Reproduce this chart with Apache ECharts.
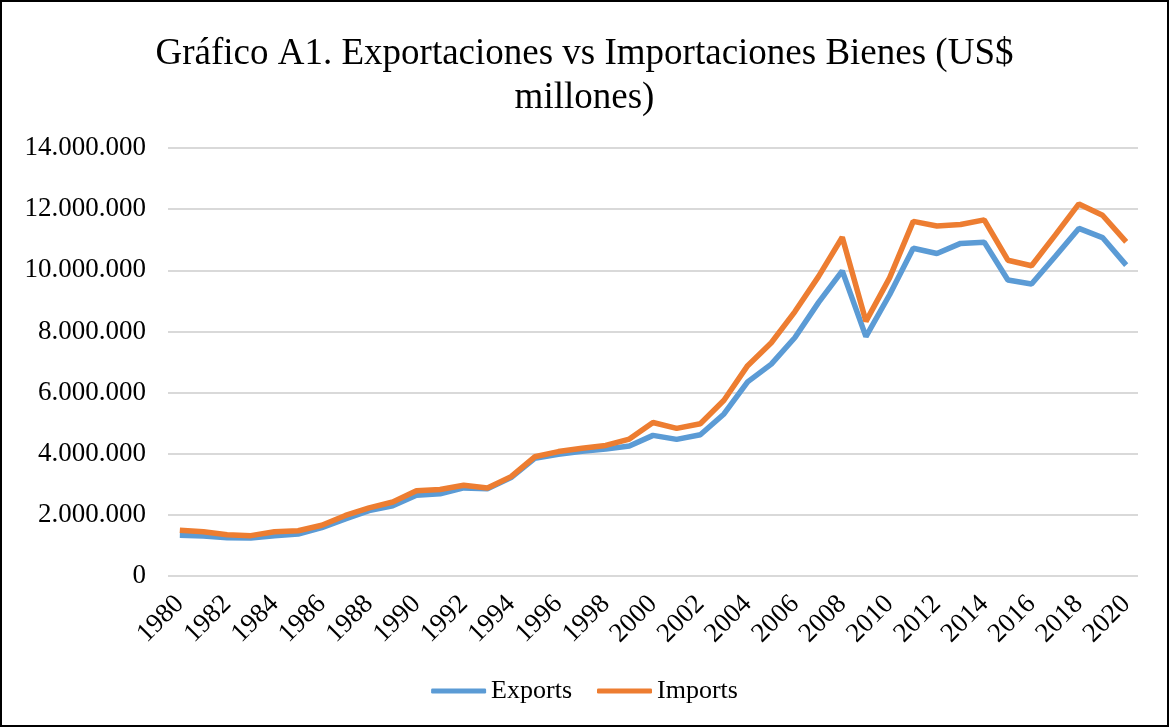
<!DOCTYPE html>
<html>
<head>
<meta charset="utf-8">
<script src="https://cdn.jsdelivr.net/npm/echarts@6/dist/echarts.min.js"></script>
<style>
html,body{margin:0;padding:0;background:#fff;}
#c{width:1169px;height:727px;box-sizing:border-box;border:2px solid #000;}
</style>
</head>
<body>
<div id="c"></div>
<script>
const years = ['1980','1981','1982','1983','1984','1985','1986','1987','1988','1989','1990','1991','1992','1993','1994','1995','1996','1997','1998','1999','2000','2001','2002','2003','2004','2005','2006','2007','2008','2009','2010','2011','2012','2013','2014','2015','2016','2017','2018','2019','2020'];
const exportsData = [1330000,1310000,1250000,1240000,1320000,1370000,1580000,1870000,2140000,2300000,2640000,2690000,2880000,2850000,3220000,3850000,3980000,4080000,4150000,4250000,4600000,4470000,4620000,5300000,6350000,6930000,7800000,8950000,9980000,7830000,9200000,10720000,10550000,10880000,10920000,9680000,9550000,10450000,11370000,11070000,10170000];
const importsData = [1500000,1450000,1350000,1320000,1450000,1480000,1660000,1980000,2230000,2420000,2790000,2830000,2970000,2880000,3250000,3900000,4070000,4180000,4270000,4480000,5020000,4830000,4980000,5750000,6880000,7630000,8650000,9800000,11080000,8330000,9750000,11600000,11450000,11500000,11650000,10330000,10150000,11150000,12170000,11800000,10930000];
const yTicks = [0,2000000,4000000,6000000,8000000,10000000,12000000,14000000];

const serif = 'Liberation Serif';
const chart = echarts.init(document.getElementById('c'));
chart.setOption({
  animation:false,
  title:{
    text:'Gráfico A1. Exportaciones vs Importaciones Bienes (US$\nmillones)',
    left:'center', top:25,
    textStyle:{fontFamily:serif,fontSize:37,fontWeight:'normal',color:'#000',lineHeight:44}
  },
  legend:{
    bottom:16, left:'center',
    icon:'roundRect', itemWidth:55, itemHeight:5, itemGap:25,
    textStyle:{fontFamily:serif,fontSize:26,color:'#000'},
    data:['Exports','Imports']
  },
  grid:{left:166,right:29,top:146,bottom:149,containLabel:false},
  xAxis:{
    type:'category', data:years, boundaryGap:true,
    axisLine:{show:false}, axisTick:{show:false},
    axisLabel:{interval:1,rotate:45,fontFamily:serif,fontSize:27,color:'#000',margin:24}
  },
  yAxis:{
    type:'value', min:yTicks[0], max:yTicks[yTicks.length-1], interval:2000000,
    axisLine:{show:false}, axisTick:{show:false},
    splitLine:{lineStyle:{color:'#d9d9d9',width:2}},
    axisLabel:{fontFamily:serif,fontSize:27,color:'#000',margin:22,
      formatter:v=>String(v).replace(/\B(?=(\d{3})+(?!\d))/g,'.')}
  },
  series:[
    {name:'Exports',type:'line',data:exportsData,showSymbol:false,symbol:'none',
     lineStyle:{color:'#5B9BD5',width:5.5},itemStyle:{color:'#5B9BD5'}},
    {name:'Imports',type:'line',data:importsData,showSymbol:false,symbol:'none',
     lineStyle:{color:'#ED7D31',width:5.5},itemStyle:{color:'#ED7D31'}}
  ]
});
</script>
</body>
</html>
